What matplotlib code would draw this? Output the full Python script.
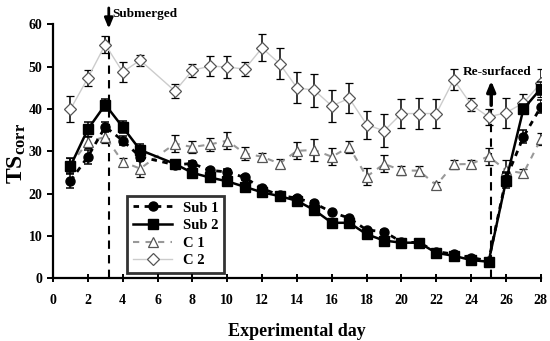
import numpy as np
import matplotlib
matplotlib.use("Agg")
import matplotlib.pyplot as plt
from matplotlib.lines import Line2D

plt.rcParams["font.family"] = ["Liberation Serif", "DejaVu Serif"]
plt.rcParams["font.weight"] = "bold"
plt.rcParams["mathtext.fontset"] = "custom"
plt.rcParams["mathtext.rm"] = "Liberation Serif:bold"
plt.rcParams["mathtext.it"] = "Liberation Serif:bold"
plt.rcParams["mathtext.bf"] = "Liberation Serif:bold"

# experimental days (no measurement on day 6)
days = [1, 2, 3, 4, 5, 7, 8, 9, 10, 11, 12, 13, 14, 15, 16, 17, 18, 19, 20,
        21, 22, 23, 24, 25, 26, 27, 28]

sub1 = [23.0, 28.7, 35.8, 32.5, 28.7, 26.8, 27.1, 25.5, 25.1, 23.8, 21.2, 19.6,
        18.9, 17.7, 15.6, 14.2, 11.4, 11.0, 8.6, 8.4, 6.3, 5.7, 4.9, 4.1,
        23.5, 33.4, 40.5]
sub1_err = [1.8, 1.6, 1.2, 1.0, 1.0, 0.6, 0.6, 0.6, 0.6, 0.5, 0.5, 0.5,
            0.5, 0.5, 0.4, 0.4, 0.4, 0.4, 0.4, 0.4, 0.3, 0.3, 0.3, 0.3,
            1.5, 1.5, 1.5]

sub2 = [26.5, 35.2, 41.0, 35.7, 30.3, 27.0, 24.9, 23.8, 22.9, 21.6, 20.3, 19.4,
        18.3, 16.1, 13.1, 13.1, 10.4, 8.9, 8.4, 8.4, 6.0, 5.3, 4.3, 3.9,
        23.0, 40.0, 44.8]
sub2_err = [1.8, 1.8, 1.4, 1.4, 1.4, 0.5, 0.5, 0.5, 0.5, 0.5, 0.5, 0.5,
            0.5, 0.5, 0.4, 0.4, 0.4, 0.4, 0.4, 0.4, 0.3, 0.3, 0.3, 0.3,
            1.8, 1.2, 1.5]

c1 = [26.8, 32.2, 33.4, 27.5, 25.9, 31.8, 31.0, 31.6, 32.5, 29.5, 28.7, 27.1,
      30.1, 30.3, 28.7, 31.0, 24.0, 27.0, 25.5, 25.4, 22.0, 26.9, 27.0, 28.8,
      25.5, 24.8, 32.9]
c1_err = [1.5, 1.5, 1.5, 1.0, 2.0, 2.0, 1.5, 1.5, 2.0, 1.5, 1.0, 1.0,
          2.0, 2.5, 2.0, 1.5, 2.0, 2.0, 1.0, 1.0, 0.8, 1.0, 1.0, 2.0,
          2.5, 1.0, 1.5]

c2 = [39.9, 47.3, 55.2, 48.7, 51.5, 44.2, 49.1, 50.1, 49.9, 49.4, 54.4, 50.7,
      45.0, 44.4, 40.7, 42.5, 36.3, 34.8, 38.9, 38.9, 38.9, 46.9, 41.0, 38.1,
      39.1, 41.4, 46.1]
c2_err = [3.1, 1.8, 2.1, 2.4, 1.3, 1.6, 1.5, 2.4, 2.6, 1.7, 3.2, 3.7,
          3.6, 3.9, 3.7, 3.5, 3.3, 3.9, 3.4, 3.7, 3.5, 2.5, 1.5, 1.8,
          3.5, 2.0, 3.3]

submerged_day = 3.2
resurfaced_day = 25.15

fig = plt.figure(figsize=(5.5, 3.41), dpi=100)
ax = fig.add_axes([0.0964, 0.184, 0.887, 0.745])

ebkw = dict(ecolor="black", elinewidth=1.1, capsize=3, capthick=1.1)

styles = {
    "C 2": dict(color="#cccccc", lw=1.0, ls="-", marker="D", ms=6.5,
                mfc="white", mec="#555555", mew=0.9),
    "C 1": dict(color="#999999", lw=1.5, ls=(0, (3, 3)), marker="^", ms=7.5,
                mfc="white", mec="#555555", mew=0.9),
    "Sub 1": dict(color="black", lw=2.0, ls=(0, (2, 2)), marker="o", ms=6.5,
                  mfc="black", mec="black"),
    "Sub 2": dict(color="black", lw=1.8, ls="-", marker="s", ms=6.5,
                  mfc="black", mec="black"),
}

ax.errorbar(days, c2, yerr=c2_err, zorder=2, **styles["C 2"], **ebkw)
ax.errorbar(days, c1, yerr=c1_err, zorder=3, **styles["C 1"], **ebkw)
ax.errorbar(days, sub1, yerr=sub1_err, zorder=4, **styles["Sub 1"], **ebkw)
ax.errorbar(days, sub2, yerr=sub2_err, zorder=5, **styles["Sub 2"], **ebkw)

# event markers
ax.plot([submerged_day, submerged_day], [0, 58.5], color="black", lw=1.5,
        ls=(0, (4, 3)), zorder=1, clip_on=False)
ax.annotate("", xy=(submerged_day, 58.3), xytext=(submerged_day, 64.5),
            arrowprops=dict(arrowstyle="-|>,head_width=0.25,head_length=0.6",
                            color="black", lw=2), annotation_clip=False)
ax.text(submerged_day + 0.2, 62.3, "Submerged", fontsize=9.5,
        fontweight="bold", va="center", ha="left")

ax.plot([resurfaced_day, resurfaced_day], [0, 40.5], color="black", lw=1.5,
        ls=(0, (4, 3)), zorder=1)
ax.annotate("", xy=(resurfaced_day, 47.3), xytext=(resurfaced_day, 40.2),
            arrowprops=dict(arrowstyle="-|>,head_width=0.25,head_length=0.6",
                            color="black", lw=2.5), annotation_clip=False)
ax.text(27.45, 48.8, "Re-surfaced", fontsize=9.5, fontweight="bold",
        va="center", ha="right")

ax.set_xlim(0, 28)
ax.set_ylim(0, 60)
ax.set_xticks(np.arange(0, 29, 2))
ax.set_yticks(np.arange(0, 61, 10))
ax.spines["top"].set_visible(False)
ax.spines["right"].set_visible(False)
for s in ("left", "bottom"):
    ax.spines[s].set_linewidth(1.6)
ax.tick_params(axis="x", direction="inout", length=6, width=1.4, pad=8,
               labelsize=10)
ax.tick_params(axis="y", direction="out", length=4, width=1.4, labelsize=10)
for lab in ax.get_xticklabels() + ax.get_yticklabels():
    lab.set_fontweight("bold")

ax.set_xlabel("Experimental day", fontsize=13, fontweight="bold", labelpad=12)
fig.text(0.03, 0.55, r"TS$_{\rm corr}$", fontsize=17, fontweight="bold",
         rotation=90, ha="center", va="center")

names = ["Sub 1", "Sub 2", "C 1", "C 2"]
handles = [Line2D([], [], **styles[n]) for n in names]
leg = ax.legend(handles, names, loc="lower left",
                bbox_to_anchor=(0.152, 0.02), fontsize=10.5, frameon=True,
                fancybox=False, handlelength=2.7, handletextpad=0.7,
                borderpad=0.4, labelspacing=0.3, borderaxespad=0)
leg.get_frame().set_edgecolor("black")
leg.get_frame().set_linewidth(2)
for t in leg.get_texts():
    t.set_fontweight("bold")

fig.savefig("out.png", dpi=100)
